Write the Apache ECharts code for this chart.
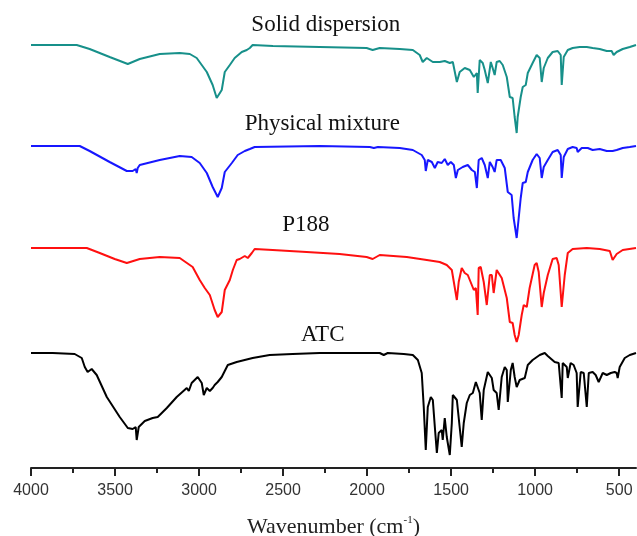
<!DOCTYPE html>
<html>
<head>
<meta charset="utf-8">
<title>FTIR spectra</title>
<script src="https://cdn.jsdelivr.net/npm/echarts@6/dist/echarts.min.js"></script>
<style>
    html, body { margin: 0; padding: 0; background: #fff; }
    #chart { width: 637px; height: 536px; }
</style>
</head>
<body>
<div id="chart"></div>
<script>
// wavenumber ticks (cm-1)
const majorTicks = [4000, 3500, 3000, 2500, 2000, 1500, 1000, 500]
const minorTicks = [3750, 3250, 2750, 2250, 1750, 1250, 750]

const seriesNames = ['Solid dispersion', 'Physical mixture', 'P188', 'ATC']

// [wavenumber, transmittance (a.u., traces stacked with offset)]
const solidDispersion = [
    [4000, 423], [3728, 423], [3651, 419], [3532, 411], [3424, 404], [3353, 409], [3234, 414],
    [3115, 415], [3055, 414], [3014, 410], [2984, 403], [2954, 396], [2919, 383], [2895, 370],
    [2865, 378], [2847, 396], [2817, 403], [2788, 410], [2746, 416], [2716, 418], [2698, 420],
    [2681, 423], [2560, 422], [2282, 421], [2003, 420], [1967, 418], [1925, 420], [1806, 419],
    [1728, 418], [1687, 413], [1669, 406], [1645, 410], [1609, 406], [1568, 406], [1538, 407],
    [1508, 405], [1490, 406], [1466, 386], [1449, 396], [1419, 400], [1389, 398], [1365, 391],
    [1347, 395], [1342, 375], [1330, 408], [1312, 405], [1300, 398], [1282, 385], [1264, 406],
    [1253, 400], [1241, 393], [1229, 406], [1211, 407], [1193, 403], [1169, 391], [1151, 371],
    [1134, 370], [1122, 351], [1110, 335], [1104, 351], [1086, 371], [1074, 381], [1056, 383],
    [1044, 395], [1015, 405], [991, 413], [973, 410], [961, 386], [949, 400], [925, 410],
    [896, 416], [866, 417], [848, 413], [842, 383], [830, 411], [806, 418], [777, 420],
    [735, 421], [693, 421], [658, 420], [616, 419], [574, 417], [545, 417], [533, 413],
    [515, 416], [479, 419], [437, 421], [400, 423]
]

const physicalMixture = [
    [4000, 322], [3710, 322], [3651, 317], [3532, 306], [3430, 297], [3395, 297], [3377, 299],
    [3371, 295], [3365, 300], [3353, 303], [3234, 308], [3115, 312], [3044, 311], [2996, 305],
    [2954, 295], [2919, 281], [2889, 271], [2865, 280], [2847, 296], [2805, 305], [2770, 313],
    [2728, 317], [2698, 319], [2669, 321], [2282, 322], [1984, 321], [1960, 320], [1936, 321],
    [1806, 320], [1728, 318], [1675, 313], [1657, 308], [1651, 297], [1639, 308], [1615, 306],
    [1597, 300], [1580, 306], [1556, 305], [1538, 309], [1520, 303], [1502, 306], [1484, 303],
    [1472, 290], [1460, 298], [1431, 301], [1401, 303], [1377, 298], [1359, 296], [1347, 280],
    [1336, 308], [1318, 310], [1300, 303], [1282, 290], [1270, 306], [1253, 301], [1241, 296],
    [1229, 308], [1205, 308], [1181, 300], [1163, 276], [1140, 273], [1128, 250], [1110, 230],
    [1098, 250], [1086, 270], [1074, 285], [1056, 286], [1044, 296], [1015, 308], [991, 314],
    [973, 310], [961, 290], [949, 301], [925, 308], [896, 316], [866, 318], [848, 313],
    [842, 290], [830, 311], [806, 319], [777, 321], [753, 320], [747, 316], [723, 320],
    [687, 320], [658, 318], [616, 319], [574, 317], [539, 317], [515, 318], [479, 320],
    [437, 321], [400, 322]
]

const p188 = [
    [4000, 220], [3668, 220], [3591, 215], [3502, 209], [3430, 205], [3353, 209], [3234, 211],
    [3115, 210], [3038, 201], [2996, 188], [2966, 180], [2936, 173], [2907, 158], [2889, 151],
    [2865, 156], [2847, 178], [2817, 188], [2799, 198], [2776, 208], [2758, 209], [2728, 212],
    [2710, 210], [2686, 215], [2669, 219], [2562, 218], [2360, 216], [2164, 214], [2003, 211],
    [1967, 209], [1925, 213], [1764, 211], [1645, 208], [1568, 206], [1526, 203], [1496, 198],
    [1484, 186], [1466, 168], [1455, 186], [1437, 200], [1419, 195], [1401, 193], [1377, 183],
    [1365, 178], [1353, 180], [1342, 153], [1336, 200], [1324, 201], [1306, 186], [1288, 163],
    [1270, 193], [1258, 193], [1247, 175], [1229, 198], [1223, 197], [1199, 190], [1169, 170],
    [1151, 146], [1134, 145], [1122, 133], [1110, 126], [1098, 133], [1080, 153], [1068, 163],
    [1050, 161], [1033, 180], [1003, 203], [991, 205], [979, 196], [961, 161], [949, 175],
    [925, 193], [896, 209], [872, 210], [860, 203], [842, 161], [824, 193], [806, 215],
    [777, 219], [693, 220], [616, 219], [556, 217], [539, 208], [515, 214], [479, 218],
    [400, 220]
]

const atc = [
    [4000, 115], [3871, 115], [3740, 114], [3698, 110], [3680, 101], [3663, 96], [3639, 99],
    [3609, 93], [3549, 71], [3472, 51], [3424, 40], [3395, 39], [3377, 41], [3371, 28],
    [3359, 41], [3323, 47], [3276, 50], [3246, 51], [3192, 60], [3133, 71], [3073, 80],
    [3061, 77], [3044, 85], [3008, 91], [2984, 85], [2972, 73], [2954, 80], [2936, 77],
    [2919, 80], [2907, 83], [2889, 86], [2865, 91], [2829, 103], [2776, 106], [2681, 110],
    [2580, 113], [2443, 114], [2282, 115], [1925, 115], [1901, 113], [1877, 115], [1782, 114],
    [1728, 113], [1698, 108], [1675, 95], [1663, 61], [1651, 18], [1639, 61], [1621, 71],
    [1609, 68], [1597, 41], [1585, 15], [1574, 35], [1556, 38], [1550, 28], [1538, 50],
    [1526, 31], [1508, 13], [1496, 45], [1490, 73], [1466, 68], [1455, 70], [1437, 21],
    [1425, 45], [1407, 65], [1389, 73], [1371, 75], [1353, 86], [1342, 86], [1330, 75],
    [1318, 48], [1306, 78], [1282, 96], [1258, 90], [1247, 78], [1229, 75], [1217, 58],
    [1199, 91], [1181, 101], [1169, 98], [1163, 66], [1145, 98], [1134, 105], [1122, 91],
    [1110, 81], [1092, 88], [1062, 90], [1044, 103], [1015, 108], [973, 113], [943, 115],
    [925, 112], [884, 106], [860, 105], [842, 70], [836, 105], [812, 101], [806, 90],
    [789, 105], [771, 103], [753, 95], [747, 61], [729, 96], [711, 95], [693, 61],
    [681, 95], [658, 96], [640, 93], [622, 86], [598, 95], [574, 93], [550, 95],
    [527, 96], [515, 95], [509, 90], [497, 101], [467, 110], [437, 113], [400, 115]
]

const spectra = [solidDispersion, physicalMixture, p188, atc]

// where each trace name sits, in data units
const nameAnchors = [[2246, 443], [2267, 344], [2365, 243], [2264, 133]]

const lineColors = ['#17908a', '#1717ff', '#ff1010', '#000000']

class FtirChart {
    constructor() {
        const series = spectra.map((data, i) => ({
            name: seriesNames[i],
            type: 'line',
            xAxisIndex: 0,
            data: data,
            showSymbol: false,
            symbol: 'none',
            smooth: false,
            lineStyle: { color: lineColors[i], width: 2 },
            itemStyle: { color: lineColors[i] },
            markPoint: {
                symbol: 'circle',
                symbolSize: 0,
                silent: true,
                label: {
                    show: true,
                    position: 'inside',
                    color: '#111',
                    fontFamily: '"Liberation Serif", "DejaVu Serif", serif',
                    fontSize: 23,
                    formatter: seriesNames[i]
                },
                data: [{ coord: nameAnchors[i] }]
            }
        }))

        this.option = {
            animation: false,
            backgroundColor: '#fff',
            grid: { left: 31, right: 1, top: 0, bottom: 68, containLabel: false, outerBoundsMode: 'none' },
            xAxis: [{
                type: 'value',
                min: 400,
                max: 4000,
                inverse: true,
                position: 'bottom',
                splitLine: { show: false },
                axisLine: { show: true, lineStyle: { color: '#222', width: 2 } },
                axisTick: {
                    show: true,
                    customValues: majorTicks,
                    length: 8,
                    lineStyle: { color: '#222', width: 2 }
                },
                axisLabel: {
                    show: true,
                    customValues: majorTicks,
                    margin: 15,
                    color: '#333',
                    fontFamily: '"Liberation Sans", Arial, sans-serif',
                    fontSize: 16,
                    formatter: (v) => String(v)
                },
                name: '{a|Wavenumber (cm}{s|-1}{a|)}',
                nameLocation: 'middle',
                nameGap: 47,
                nameTextStyle: {
                    rich: {
                        a: { fontFamily: '"Liberation Serif", serif', fontSize: 22, color: '#222', lineHeight: 24 },
                        s: { fontFamily: '"Liberation Serif", serif', fontSize: 11, color: '#222', verticalAlign: 'top', lineHeight: 24 }
                    }
                }
            }, {
                // minor ticks only
                type: 'value',
                min: 400,
                max: 4000,
                inverse: true,
                position: 'bottom',
                splitLine: { show: false },
                axisLine: { show: false },
                axisTick: {
                    show: true,
                    customValues: minorTicks,
                    length: 5,
                    lineStyle: { color: '#222', width: 2 }
                },
                axisLabel: { show: false }
            }],
            yAxis: {
                type: 'value',
                min: 0,
                max: 468,
                show: false
            },
            series: series
        }
    }

    init() {
        const chart = echarts.init(document.getElementById('chart'))
        chart.setOption(this.option)
    }
}

new FtirChart().init()
</script>
</body>
</html>
